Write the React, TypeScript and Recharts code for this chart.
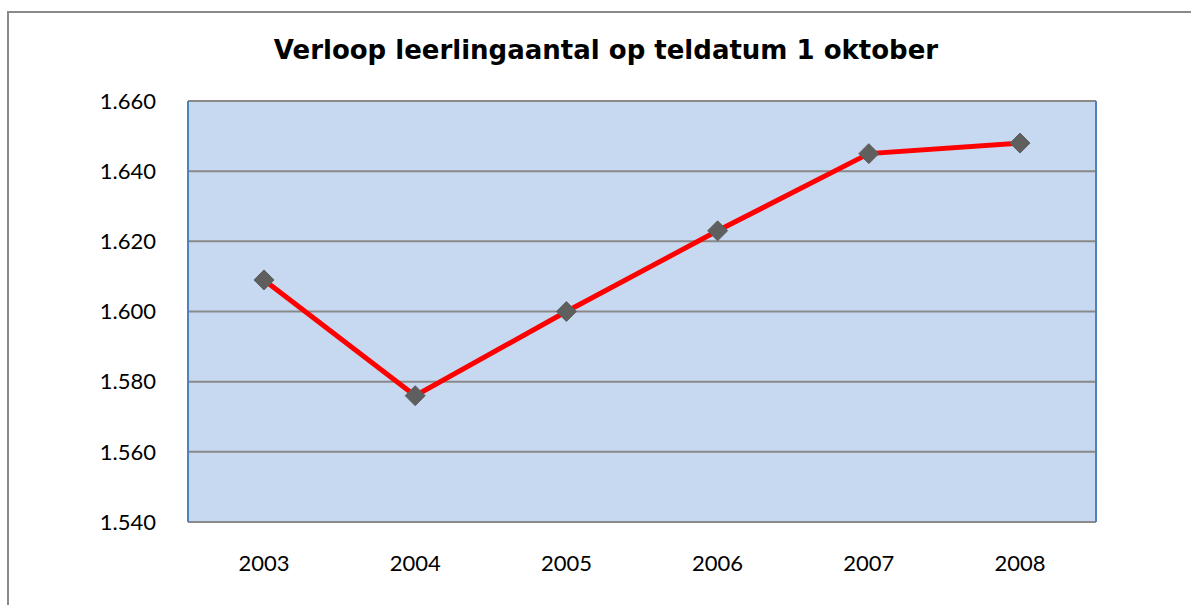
import React from "react";
import { LineChart, Line, XAxis, YAxis, CartesianGrid } from "recharts";

const years = ["2003", "2004", "2005", "2006", "2007", "2008"];
const pupils = [1609, 1576, 1600, 1623, 1645, 1648];
const yTicks = [1540, 1560, 1580, 1600, 1620, 1640, 1660];
const title = "Verloop leerlingaantal op teldatum 1 oktober";

const data = years.map((y, i) => ({ year: y, value: pupils[i] }));

const fmt = (v: number) => {
  const s = String(v);
  return s.length > 3 ? s.slice(0, s.length - 3) + "." + s.slice(-3) : s;
};

const Diamond = (props: any) => {
  const { cx, cy } = props;
  if (cx == null || cy == null) return null;
  const r = 10;
  return (
    <path
      d={`M${cx},${cy - r} L${cx + r},${cy} L${cx},${cy + r} L${cx - r},${cy} Z`}
      fill="#5f5f5f"
      stroke="#5f5f5f"
      strokeWidth={1}
    />
  );
};

export default function App() {
  const font = "Lato, 'Open Sans', sans-serif";
  return (
    <div
      style={{
        position: "absolute",
        left: 0,
        top: 0,
        width: 1191,
        height: 605,
        overflow: "hidden",
        background: "#ffffff",
      }}
    >
      <div
        style={{
          position: "absolute",
          left: 7,
          top: 11,
          width: 1400,
          height: 800,
          border: "2px solid #8a8a8a",
          boxSizing: "border-box",
        }}
      />
      <div
        style={{
          position: "absolute",
          left: 0,
          top: 32,
          width: 1212,
          textAlign: "center",
          fontFamily: "'DejaVu Sans', Verdana, sans-serif",
          fontWeight: "bold",
          fontSize: 26,
          lineHeight: "36px",
          color: "#000",
        }}
      >
        {title}
      </div>
      <div style={{ position: "absolute", left: 0, top: 0 }}>
        <LineChart
          width={1191}
          height={605}
          data={data}
          margin={{ top: 101, right: 94, bottom: 43, left: 128 }}
        >
          <CartesianGrid
            vertical={false}
            horizontal={true}
            fill="#c6d9f0"
            stroke="#898989"
            strokeWidth={2}
            fillOpacity={1}
          />
          <XAxis
            dataKey="year"
            height={40}
            padding={{ left: 76, right: 76 }}
            axisLine={{ stroke: "#8a8a8a", strokeWidth: 2 }}
            tickLine={false}
            tickSize={0}
            tickMargin={33}
            tick={{ fill: "#000", fontSize: 22, fontFamily: font }}
            interval={0}
          />
          <XAxis
            xAxisId="top"
            orientation="top"
            dataKey="year"
            height={0}
            padding={{ left: 76, right: 76 }}
            tick={false}
            tickLine={false}
            axisLine={{ stroke: "#4f81bd", strokeWidth: 2 }}
          />
          <YAxis
            type="number"
            domain={[1540, 1660]}
            ticks={yTicks}
            width={60}
            tickFormatter={fmt}
            axisLine={{ stroke: "#4f81bd", strokeWidth: 2 }}
            tickLine={false}
            tickSize={0}
            tickMargin={32}
            tick={{ fill: "#000", fontSize: 22, fontFamily: font }}
            interval={0}
          />
          <YAxis
            yAxisId="right"
            orientation="right"
            type="number"
            domain={[1540, 1660]}
            width={1}
            tick={false}
            tickLine={false}
            axisLine={{ stroke: "#4f81bd", strokeWidth: 2 }}
          />
          <Line
            type="linear"
            dataKey="value"
            stroke="#ff0000"
            strokeWidth={5}
            dot={<Diamond />}
            activeDot={false}
            isAnimationActive={false}
          />
        </LineChart>
      </div>
    </div>
  );
}
